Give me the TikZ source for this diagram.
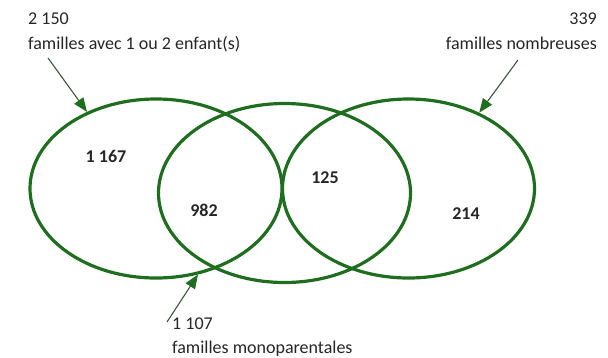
\documentclass[tikz,border=0pt]{standalone}
\usepackage{fontspec}
\setmainfont{Carlito}
\usetikzlibrary{shapes.geometric,arrows.meta}
\definecolor{vgreen}{RGB}{31,110,31}
\definecolor{argray}{RGB}{60,85,60}
\begin{document}
\begin{tikzpicture}[x=1pt,y=-1pt,
  setshape/.style={draw=vgreen,line width=3.2pt,ellipse,minimum width=252pt,minimum height=179pt,inner sep=0pt},
  lbl/.style={inner sep=0pt,font=\fontsize{18}{22}\selectfont,text=black!85},
  num/.style={inner sep=0pt,font=\fontsize{18}{22}\selectfont\bfseries,text=black!85},
  pointer/.style={draw=argray,line width=1.1pt,-{Triangle[length=14pt,width=11pt,color=vgreen]}}]
\useasboundingbox (0,0) rectangle (608,357);
\node[setshape] (L) at (156,188.5) {};
\node[setshape] (M) at (284.5,193) {};
\node[setshape] (R) at (408.5,188.5) {};
\node[num] (n1) at (106,156) {1 167};
\node[num] (n2) at (204,210) {982};
\node[num] (n3) at (325,178) {125};
\node[num] (n4) at (466,214) {214};
\node[lbl,anchor=base west] (a1) at (28,24) {2 150};
\node[lbl,anchor=base west] (a2) at (28,49) {familles avec 1 ou 2 enfant(s)};
\node[lbl,anchor=base east] (b1) at (597,24) {339};
\node[lbl,anchor=base east] (b2) at (597,49) {familles nombreuses};
\node[lbl,anchor=base west] (c1) at (172,329) {1 107};
\node[lbl,anchor=base west] (c2) at (172,353) {familles monoparentales};
\coordinate (sa) at (48,58);
\coordinate (sb) at (518,60);
\coordinate (sc) at (167,322);
\draw[pointer] (sa) -- (L.132);
\draw[pointer] (sb) -- (R.47);
\draw[pointer] (sc) -- (L.296);
\end{tikzpicture}
\end{document}
